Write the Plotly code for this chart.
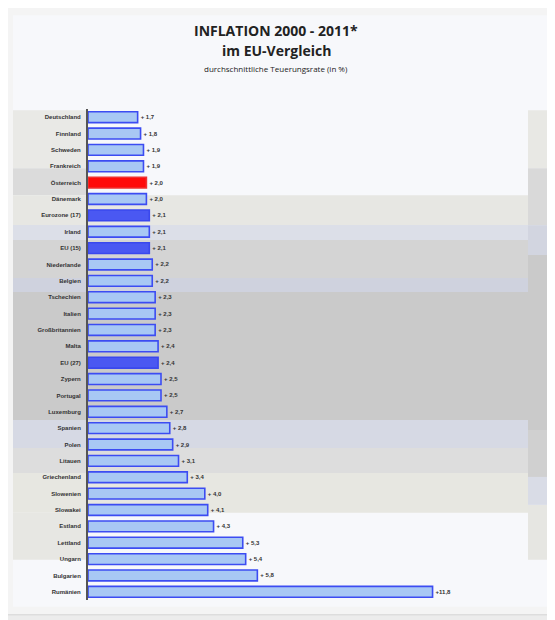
import plotly.graph_objects as go

countries = ["Deutschland", "Finnland", "Schweden", "Frankreich", "Österreich", "Dänemark",
             "Eurozone (17)", "Irland", "EU (15)", "Niederlande", "Belgien", "Tschechien",
             "Italien", "Großbritannien", "Malta", "EU (27)", "Zypern", "Portugal",
             "Luxemburg", "Spanien", "Polen", "Litauen", "Griechenland", "Slowenien",
             "Slowakei", "Estland", "Lettland", "Ungarn", "Bulgarien", "Rumänien"]
values = [1.7, 1.8, 1.9, 1.9, 2.0, 2.0, 2.1, 2.1, 2.1, 2.2, 2.2, 2.3, 2.3, 2.3, 2.4,
          2.4, 2.5, 2.5, 2.7, 2.8, 2.9, 3.1, 3.4, 4.0, 4.1, 4.3, 5.3, 5.4, 5.8, 11.8]
highlight_home = ["Österreich"]
highlight_agg = ["Eurozone (17)", "EU (15)", "EU (27)"]

title1 = "INFLATION 2000 - 2011*"
title2 = "im EU-Vergleich"
title3 = "durchschnittliche Teuerungsrate (in %)"

# page body margin offset (8px) compensation
OFF = 8
W, H = 555 - OFF, 620 - OFF
L, R, T, B = 88, 528, 108.8, 600.2  # target pixel coordinates


def fmt(v):
    s = f"{v:.1f}".replace(".", ",")
    return ("+" if v >= 10 else "+ ") + s


fills, lines = [], []
for c in countries:
    if c in highlight_home:
        fills.append("#ff0a0a"); lines.append("#f03030")
    elif c in highlight_agg:
        fills.append("#4a58f2"); lines.append("#3a48ee")
    else:
        fills.append("#a8c8f4"); lines.append("#3c4cf2")

fig = go.Figure(go.Bar(
    x=values, y=countries, orientation="h",
    marker=dict(color=fills, line=dict(color=lines, width=1.6)),
    text=[fmt(v) for v in values], textposition="outside",
    textfont=dict(size=6, color="#333333", family="Liberation Sans", weight="bold"),
    cliponaxis=False, width=0.66,
))


def px(x, y):
    return (x - L) / (R - L), (B - y) / (B - T)


shapes = []


def rect(x0, y0, x1, y1, color, line=None):
    a, b = px(x0, y0)
    c, d = px(x1, y1)
    shapes.append(dict(type="rect", xref="paper", yref="paper", x0=a, x1=c, y0=d, y1=b,
                       fillcolor=color, line=dict(width=1 if line else 0, color=line or color),
                       layer="below"))


# frame
rect(6, 5, 551, 615, "#f4f4f4", "#d4d4d4")
rect(13, 15, 549, 607, "#f7f8fb")
# background bands
bands = [
    (13, 110, 88, 168, "#e9e9e6"),
    (13, 168, 88, 195, "#dbdbdb"),
    (13, 195, 528, 225, "#e7e7e3"),
    (13, 225, 528, 240, "#dcdfe8"),
    (13, 240, 528, 278, "#d4d4d4"),
    (13, 278, 528, 292, "#cfd2de"),
    (13, 292, 528, 420, "#cacaca"),
    (13, 420, 528, 448, "#d6d9e4"),
    (13, 448, 528, 473, "#dddddd"),
    (13, 473, 528, 513, "#e7e7e1"),
    (13, 513, 88, 560, "#e7e7e3"),
    (528, 110, 549, 168, "#e8e8e4"),
    (528, 168, 549, 225, "#d9d9d9"),
    (528, 225, 549, 255, "#d2d5e0"),
    (528, 255, 549, 430, "#cacaca"),
    (528, 430, 549, 477, "#d0d0d0"),
    (528, 477, 549, 505, "#d9dce6"),
    (528, 505, 549, 560, "#e6e6e2"),
]
for b in bands:
    rect(*b)

ann = []
for txt, y, size, bold in [(title1, 30, 14, True), (title2, 50, 14, True), (title3, 68, 8, False)]:
    ax, ay = px(276, y)
    ann.append(dict(text=f"<b>{txt}</b>" if bold else txt, xref="paper", yref="paper",
                    x=ax, y=ay, xanchor="center", yanchor="middle", showarrow=False,
                    font=dict(size=size, color="#222222", family="Open Sans")))

fig.update_layout(
    width=W, height=H,
    margin=dict(l=L - OFF, r=555 - R, t=T - OFF, b=620 - B, pad=0),
    paper_bgcolor="#ececec", plot_bgcolor="rgba(0,0,0,0)",
    shapes=shapes, annotations=ann, showlegend=False, bargap=0.34,
    xaxis=dict(range=[0, (R - L) / 29.2], visible=False, fixedrange=True),
    yaxis=dict(categoryorder="array", categoryarray=countries, autorange="reversed",
               showline=True, linecolor="#555555", linewidth=2, showgrid=False,
               ticks="", tickfont=dict(size=6, color="#333333", family="Liberation Sans",
                                       weight="bold"),
               ticklabelstandoff=4, zeroline=False),
)

fig.write_html("out.html")
